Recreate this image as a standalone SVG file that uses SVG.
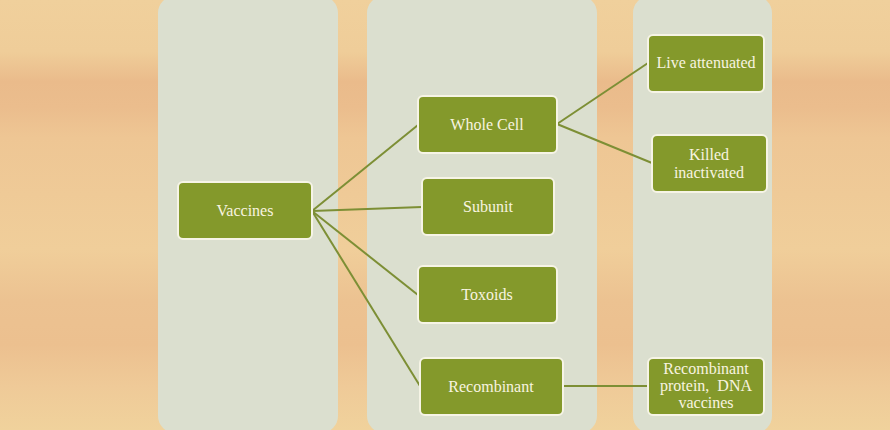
<svg xmlns="http://www.w3.org/2000/svg" width="890" height="430" viewBox="0 0 890 430">
<defs>
<linearGradient id="wood" x1="0" y1="0" x2="0" y2="1">
<stop offset="0" stop-color="#f0d09c"/>
<stop offset="0.12" stop-color="#efcd99"/>
<stop offset="0.19" stop-color="#eabb8b"/>
<stop offset="0.25" stop-color="#ebbd8d"/>
<stop offset="0.32" stop-color="#eec694"/>
<stop offset="0.45" stop-color="#efca97"/>
<stop offset="0.58" stop-color="#f0ce9a"/>
<stop offset="0.7" stop-color="#ecc291"/>
<stop offset="0.8" stop-color="#ecc08f"/>
<stop offset="0.9" stop-color="#efca98"/>
<stop offset="1" stop-color="#f0d29c"/>
</linearGradient>
<style>
.panel{fill:#dbdfcf}
.box{fill:#84992b;stroke:#f6f4e6;stroke-width:2}
.lbl{font-size:16px;fill:#f8f4e0;text-anchor:middle}
.conn line{stroke:#7d8f35;stroke-width:2}
</style>
</defs>
<rect x="0" y="0" width="890" height="430" fill="url(#wood)"/>
<g id="panels">
<rect class="panel" x="158" y="-4" width="180" height="437" rx="17"/>
<rect class="panel" x="367" y="-4" width="230" height="437" rx="17"/>
<rect class="panel" x="633" y="-4" width="139" height="437" rx="17"/>
</g>
<g class="conn" id="connectors">
<line x1="312" y1="211" x2="418" y2="125"/>
<line x1="312" y1="211" x2="422" y2="207"/>
<line x1="312" y1="211" x2="418" y2="295"/>
<line x1="312" y1="211" x2="420" y2="386"/>
<line x1="557" y1="124" x2="648" y2="63"/>
<line x1="557" y1="124" x2="652" y2="163"/>
<line x1="563" y1="386" x2="648" y2="386"/>
</g>
<g font-family="'Liberation Serif', 'DejaVu Serif', serif">
<g id="vaccines"><rect class="box" x="178" y="182" width="134" height="57" rx="5"/><text class="lbl" x="245" y="216">Vaccines</text></g>
<g id="whole-cell"><rect class="box" x="418" y="96" width="139" height="57" rx="5"/><text class="lbl" x="487" y="130">Whole Cell</text></g>
<g id="subunit"><rect class="box" x="422" y="178" width="132" height="57" rx="5"/><text class="lbl" x="488" y="212">Subunit</text></g>
<g id="toxoids"><rect class="box" x="418" y="266" width="139" height="57" rx="5"/><text class="lbl" x="487" y="300">Toxoids</text></g>
<g id="recombinant"><rect class="box" x="420" y="358" width="143" height="57" rx="5"/><text class="lbl" x="491" y="392">Recombinant</text></g>
<g id="live-attenuated"><rect class="box" x="648" y="35" width="116" height="57" rx="5"/><text class="lbl" x="706" y="68">Live attenuated</text></g>
<g id="killed-inactivated"><rect class="box" x="652" y="135" width="115" height="57" rx="5"/><text class="lbl" x="709" y="160">Killed</text><text class="lbl" x="709" y="178">inactivated</text></g>
<g id="recombinant-protein"><rect class="box" x="648" y="358" width="116" height="57" rx="5"/><text class="lbl" x="706" y="374">Recombinant</text><text class="lbl" x="706" y="391" style="white-space:pre">protein,  DNA</text><text class="lbl" x="706" y="408">vaccines</text></g>
</g>
</svg>
